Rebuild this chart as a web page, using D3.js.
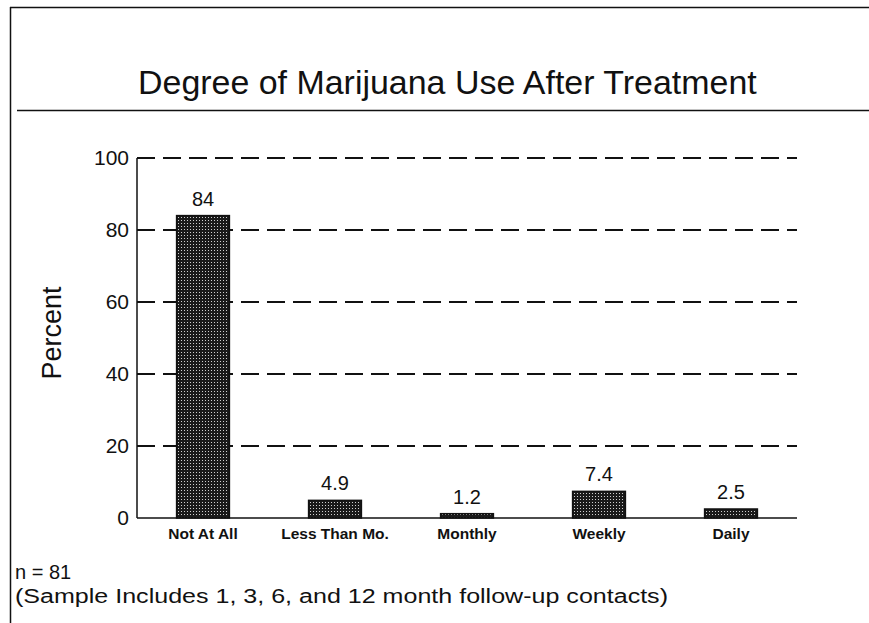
<!DOCTYPE html>
<html>
<head>
<meta charset="utf-8">
<script src="https://cdn.jsdelivr.net/npm/d3@7"></script>
<style>
  html, body { margin: 0; padding: 0; background: #fff; }
  svg { display: block; }
  text { font-family: "Liberation Sans", Arial, Helvetica, sans-serif; fill: #111; }
</style>
</head>
<body>
<svg id="chart" width="869" height="623"></svg>
<script>
const categories = ["Not At All", "Less Than Mo.", "Monthly", "Weekly", "Daily"];
const values = [84, 4.9, 1.2, 7.4, 2.5];
const valueLabels = ["84", "4.9", "1.2", "7.4", "2.5"];
const yTicks = [0, 20, 40, 60, 80, 100];
const titleText = "Degree of Marijuana Use After Treatment";
const yAxisTitle = "Percent";
const noteLines = ["n = 81", "(Sample Includes 1, 3, 6, and 12 month follow-up contacts)"];

const svg = d3.select("#chart");
const W = 869, H = 623;
const plot = { left: 137, right: 797, top: 158, bottom: 518 };

// stipple pattern for bars
const defs = svg.append("defs");
const pat = defs.append("pattern")
  .attr("id", "stipple").attr("patternUnits", "userSpaceOnUse")
  .attr("width", 3).attr("height", 3);
pat.append("rect").attr("width", 3).attr("height", 3).attr("fill", "#1a1a1a");
pat.append("rect").attr("x", 1).attr("y", 1).attr("width", 1).attr("height", 1).attr("fill", "#cfcfcf");

// frame
svg.append("line").attr("x1", 10).attr("x2", W).attr("y1", 7.5).attr("y2", 7.5)
  .attr("stroke", "#111").attr("stroke-width", 1.5);
svg.append("line").attr("x1", 10.5).attr("x2", 10.5).attr("y1", 7).attr("y2", H)
  .attr("stroke", "#111").attr("stroke-width", 1.5);
svg.append("line").attr("x1", 17).attr("x2", W).attr("y1", 110.5).attr("y2", 110.5)
  .attr("stroke", "#111").attr("stroke-width", 1.5);

// title
svg.append("text").attr("x", 138).attr("y", 94)
  .attr("font-size", 30).text(titleText)
  .each(function () {
    const target = 619;
    const len = this.getComputedTextLength();
    d3.select(this).attr("font-size", 30 * target / len);
  });

const x = d3.scaleBand().domain(categories).range([plot.left, plot.right])
  .paddingInner(0.6).paddingOuter(0.3);
const y = d3.scaleLinear().domain([0, 100]).range([plot.bottom, plot.top]);

// gridlines
svg.append("g").selectAll("line").data(yTicks.filter(d => d > 0)).join("line")
  .attr("x1", plot.left).attr("x2", plot.right)
  .attr("y1", d => y(d)).attr("y2", d => y(d))
  .attr("stroke", "#111").attr("stroke-width", 2)
  .attr("stroke-dasharray", "18,8");

// bars
svg.append("g").selectAll("rect").data(values).join("rect")
  .attr("x", (d, i) => x(categories[i]))
  .attr("width", x.bandwidth())
  .attr("y", d => y(d))
  .attr("height", d => y(0) - y(d))
  .attr("fill", "url(#stipple)")
  .attr("stroke", "#111").attr("stroke-width", 1.5);

// value labels
svg.append("g").selectAll("text").data(values).join("text")
  .attr("x", (d, i) => x(categories[i]) + x.bandwidth() / 2)
  .attr("y", d => y(d) - 10)
  .attr("text-anchor", "middle").attr("font-size", 20)
  .text((d, i) => valueLabels[i]);

// y axis (labels only)
const yAxis = d3.axisLeft(y).tickValues(yTicks).tickSize(0).tickPadding(8);
const gy = svg.append("g").attr("transform", `translate(${plot.left},0)`).call(yAxis);
gy.select(".domain").remove();
gy.selectAll("text").attr("font-size", 21).attr("font-family", "Liberation Sans, Arial, sans-serif").attr("fill", "#111");

// axis lines
svg.append("line").attr("x1", plot.left).attr("x2", plot.left)
  .attr("y1", y(100)).attr("y2", y(0)).attr("stroke", "#111").attr("stroke-width", 1.5);
svg.append("line").attr("x1", plot.left).attr("x2", plot.right)
  .attr("y1", y(0)).attr("y2", y(0)).attr("stroke", "#111").attr("stroke-width", 1.5);

// x axis labels
const xAxis = d3.axisBottom(x).tickSize(0).tickPadding(10);
const gx = svg.append("g").attr("transform", `translate(0,${plot.bottom})`).call(xAxis);
gx.select(".domain").remove();
gx.selectAll("text").attr("font-size", 15.5).attr("font-weight", "bold")
  .attr("font-family", "Liberation Sans, Arial, sans-serif").attr("fill", "#111");

// y axis title
svg.append("text").attr("transform", "translate(61,333) rotate(-90)")
  .attr("text-anchor", "middle").attr("font-size", 27).text(yAxisTitle);

// notes
svg.append("text").attr("x", 15).attr("y", 579).attr("font-size", 20).text(noteLines[0]);
svg.append("text").attr("x", 15).attr("y", 603).attr("font-size", 20).text(noteLines[1])
  .attr("textLength", 653).attr("lengthAdjust", "spacingAndGlyphs");
</script>
</body>
</html>
